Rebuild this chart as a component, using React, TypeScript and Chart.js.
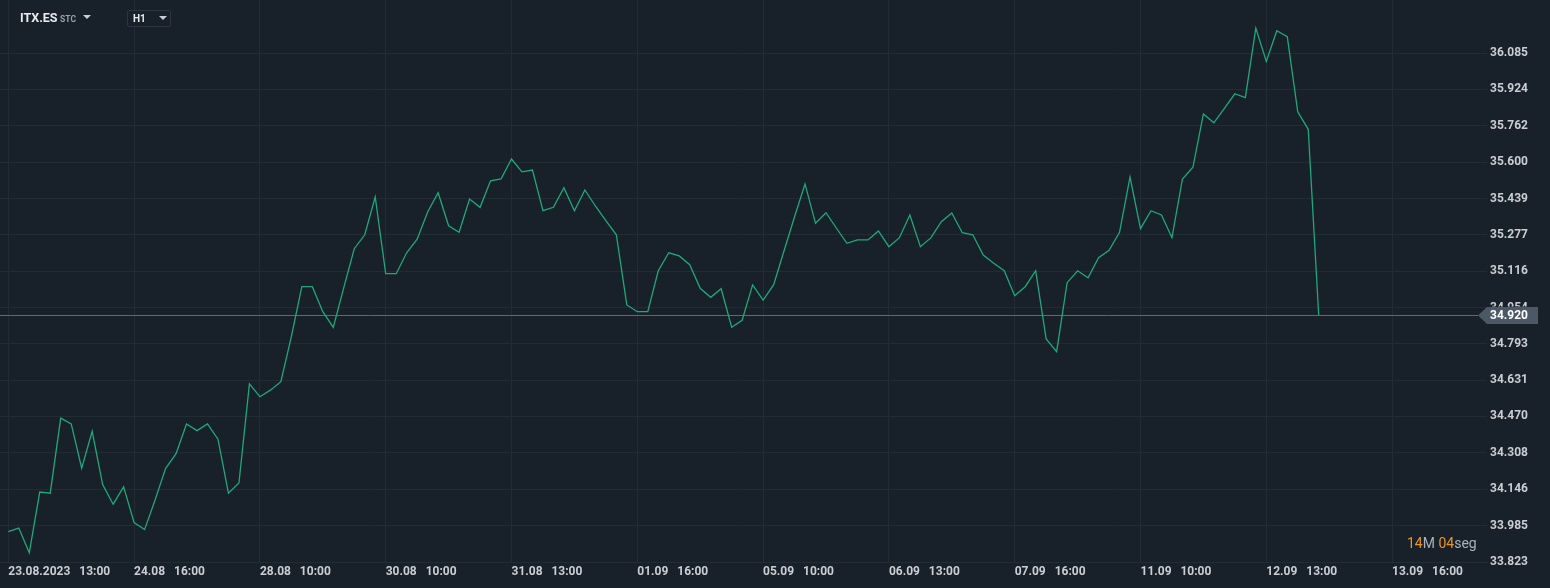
import React, { useEffect, useRef } from "react";
import { Chart, registerables } from "chart.js";

Chart.register(...registerables);

// ---- data ----
const prices: number[] = [
  33.958, 33.974, 33.864, 34.134, 34.129, 34.463, 34.437, 34.240, 34.404, 34.167,
  34.080, 34.157, 33.998, 33.967, 34.099, 34.238, 34.305, 34.437, 34.407, 34.437,
  34.369, 34.129, 34.174, 34.615, 34.558, 34.587, 34.625, 34.825, 35.047, 35.047,
  34.936, 34.866, 35.043, 35.216, 35.278, 35.446, 35.105, 35.105, 35.198, 35.258,
  35.379, 35.465, 35.318, 35.289, 35.437, 35.400, 35.518, 35.526, 35.615, 35.558,
  35.566, 35.385, 35.400, 35.487, 35.385, 35.477, 35.406, 35.341, 35.278, 34.966,
  34.936, 34.936, 35.118, 35.198, 35.184, 35.145, 35.040, 35.000, 35.038, 34.867,
  34.898, 35.055, 34.987, 35.055, 35.207, 35.358, 35.504, 35.329, 35.376, 35.307,
  35.240, 35.255, 35.255, 35.295, 35.225, 35.265, 35.366, 35.225, 35.264, 35.336,
  35.375, 35.287, 35.278, 35.188, 35.151, 35.118, 35.007, 35.047, 35.118, 34.815,
  34.758, 35.065, 35.118, 35.087, 35.176, 35.209, 35.289, 35.534, 35.305, 35.385,
  35.366, 35.265, 35.526, 35.578, 35.815, 35.776, 35.840, 35.905, 35.888, 36.197,
  36.049, 36.185, 36.159, 35.825, 35.747, 34.920,
];
const lastPrice = 34.92;

const yTickValues: number[] = [
  33.823, 33.985, 34.146, 34.308, 34.47, 34.631, 34.793, 34.954,
  35.116, 35.277, 35.439, 35.6, 35.762, 35.924, 36.085,
];

const xTickIndices: number[] = [0, 12, 24, 36, 48, 60, 72, 84, 96, 108, 120, 132];
const xTickDates: string[] = [
  "23.08.2023", "24.08", "28.08", "30.08", "31.08", "01.09",
  "05.09", "06.09", "07.09", "11.09", "12.09", "13.09",
];
const xTickTimes: string[] = [
  "13:00", "16:00", "10:00", "10:00", "13:00", "16:00",
  "10:00", "13:00", "16:00", "10:00", "13:00", "16:00",
];

const symbolName = "ITX.ES";
const symbolSuffix = "STC";
const intervalName = "H1";
const timerMinutes = "14";
const timerSeconds = "04";

// ---- layout / style ----
const W = 1550;
const H = 588;
const FONT = "Roboto, 'Open Sans', 'DejaVu Sans', sans-serif";
const BG = "#18212a";
const GRID = "#222c35";
const LINE = "#20a87b";
const LABEL = "#c9ced3";
const PRICE_LINE = "#5b6a76";
const PRICE_TAG = "#4a5965";
const ORANGE = "#ee9420";

const PX_PER_BAR = 125.8 / 12;
const FIRST_X = 8.3;
const AREA_RIGHT = 1487;
const X_MIN = -FIRST_X / PX_PER_BAR;
const X_MAX = X_MIN + AREA_RIGHT / PX_PER_BAR;
const Y_MIN = 33.823;
const Y_MAX = 33.823 + 562.5 / 225.1;

const priceTagPlugin = {
  id: "priceTag",
  beforeDatasetsDraw(chart: any) {
    const { ctx, chartArea, scales } = chart;
    const y = Math.round(scales.y.getPixelForValue(lastPrice)) + 0.5;
    ctx.save();
    ctx.strokeStyle = PRICE_LINE;
    ctx.lineWidth = 1;
    ctx.beginPath();
    ctx.moveTo(chartArea.left, y);
    ctx.lineTo(chartArea.right - 9, y);
    ctx.stroke();
    ctx.restore();
  },
  afterDraw(chart: any) {
    const { ctx, chartArea, scales } = chart;
    const y = Math.round(scales.y.getPixelForValue(lastPrice)) + 0.5;
    const r = chartArea.right;
    ctx.save();
    ctx.fillStyle = BG;
    ctx.fillRect(r, y - 9, 60, 18);
    ctx.fillStyle = PRICE_TAG;
    ctx.beginPath();
    ctx.moveTo(r - 9, y);
    ctx.lineTo(r, y - 8.5);
    ctx.lineTo(r + 51, y - 8.5);
    ctx.lineTo(r + 51, y + 8.5);
    ctx.lineTo(r, y + 8.5);
    ctx.closePath();
    ctx.fill();
    ctx.fillStyle = "#ffffff";
    ctx.font = `bold 12px ${FONT}`;
    ctx.textAlign = "left";
    ctx.textBaseline = "middle";
    ctx.fillText(lastPrice.toFixed(3), r + 3, y + 0.5);
    ctx.restore();
  },
};

function xLabel(v: number): string {
  const i = xTickIndices.indexOf(Math.round(v));
  if (i < 0) return "";
  return `${xTickDates[i]}   ${xTickTimes[i]}`;
}

const triangle = (left: number, top: number): React.CSSProperties => ({
  position: "absolute",
  left,
  top,
  width: 0,
  height: 0,
  borderLeft: "4px solid transparent",
  borderRight: "4px solid transparent",
  borderTop: "4px solid #c9ced3",
});

export default function App() {
  const canvasRef = useRef<HTMLCanvasElement | null>(null);

  useEffect(() => {
    document.body.style.margin = "0";
    document.body.style.background = BG;
    const canvas = canvasRef.current;
    if (!canvas) return;
    const chart = new Chart(canvas, {
      type: "line",
      data: {
        datasets: [
          {
            data: prices.map((v, i) => ({ x: i, y: v })),
            borderColor: LINE,
            borderWidth: 1.3,
            pointRadius: 0,
            tension: 0,
            fill: false,
          },
        ],
      },
      options: {
        responsive: false,
        animation: false,
        devicePixelRatio: 1,
        layout: { padding: 0 },
        plugins: { legend: { display: false }, tooltip: { enabled: false } },
        scales: {
          x: {
            type: "linear",
            position: "bottom",
            min: X_MIN,
            max: X_MAX,
            grid: { color: GRID, drawTicks: false, lineWidth: 1 },
            border: { display: true, color: GRID },
            afterBuildTicks: (s: any) => {
              s.ticks = xTickIndices.map((v) => ({ value: v }));
            },
            ticks: {
              autoSkip: false,
              maxRotation: 0,
              minRotation: 0,
              align: "start",
              padding: 3,
              color: LABEL,
              font: { family: FONT, size: 12, weight: "bold" },
              callback: (v: any) => xLabel(Number(v)),
            },
            afterFit: (s: any) => {
              s.height = H - 562;
              s.paddingLeft = 0;
              s.paddingRight = 0;
            },
          },
          y: {
            type: "linear",
            position: "right",
            min: Y_MIN,
            max: Y_MAX,
            grid: { color: GRID, drawTicks: false, lineWidth: 1 },
            border: { display: false },
            afterBuildTicks: (s: any) => {
              s.ticks = yTickValues.map((v) => ({ value: v }));
            },
            ticks: {
              padding: 3,
              color: LABEL,
              font: { family: FONT, size: 12, weight: "bold" },
              callback: (v: any) => Number(v).toFixed(3),
            },
            afterFit: (s: any) => {
              s.width = W - AREA_RIGHT;
              s.paddingTop = 0;
              s.paddingBottom = 0;
            },
          },
        },
      } as any,
      plugins: [priceTagPlugin],
    });
    return () => chart.destroy();
  }, []);

  return (
    <div
      style={{
        position: "fixed",
        left: 0,
        top: 0,
        width: W,
        height: H,
        background: BG,
        fontFamily: FONT,
        overflow: "hidden",
      }}
    >
      <canvas ref={canvasRef} width={W} height={H} style={{ display: "block", width: W, height: H }} />
      <div style={{ position: "absolute", left: 20, top: 10, color: "#e8ebee", fontWeight: 700, fontSize: 12.5, lineHeight: "16px" }}>
        {symbolName}
      </div>
      <div style={{ position: "absolute", left: 60, top: 13, color: "#98a2ab", fontWeight: 700, fontSize: 8.5, lineHeight: "12px" }}>
        {symbolSuffix}
      </div>
      <div style={triangle(83, 15)} />
      <div
        style={{
          position: "absolute",
          left: 127,
          top: 10,
          width: 42,
          height: 15,
          border: "1px solid #2a3540",
          borderRadius: 2,
          background: BG,
        }}
      />
      <div style={{ position: "absolute", left: 133, top: 11, color: "#e8ebee", fontWeight: 700, fontSize: 10, lineHeight: "15px" }}>
        {intervalName}
      </div>
      <div style={triangle(159, 16)} />
      <div style={{ position: "absolute", left: 1407, top: 534, fontSize: 14, lineHeight: "18px", whiteSpace: "nowrap" }}>
        <span style={{ color: ORANGE }}>{timerMinutes}</span>
        <span style={{ color: "#aab1b8" }}>M </span>
        <span style={{ color: ORANGE }}>{timerSeconds}</span>
        <span style={{ color: "#aab1b8" }}>seg</span>
      </div>
    </div>
  );
}
